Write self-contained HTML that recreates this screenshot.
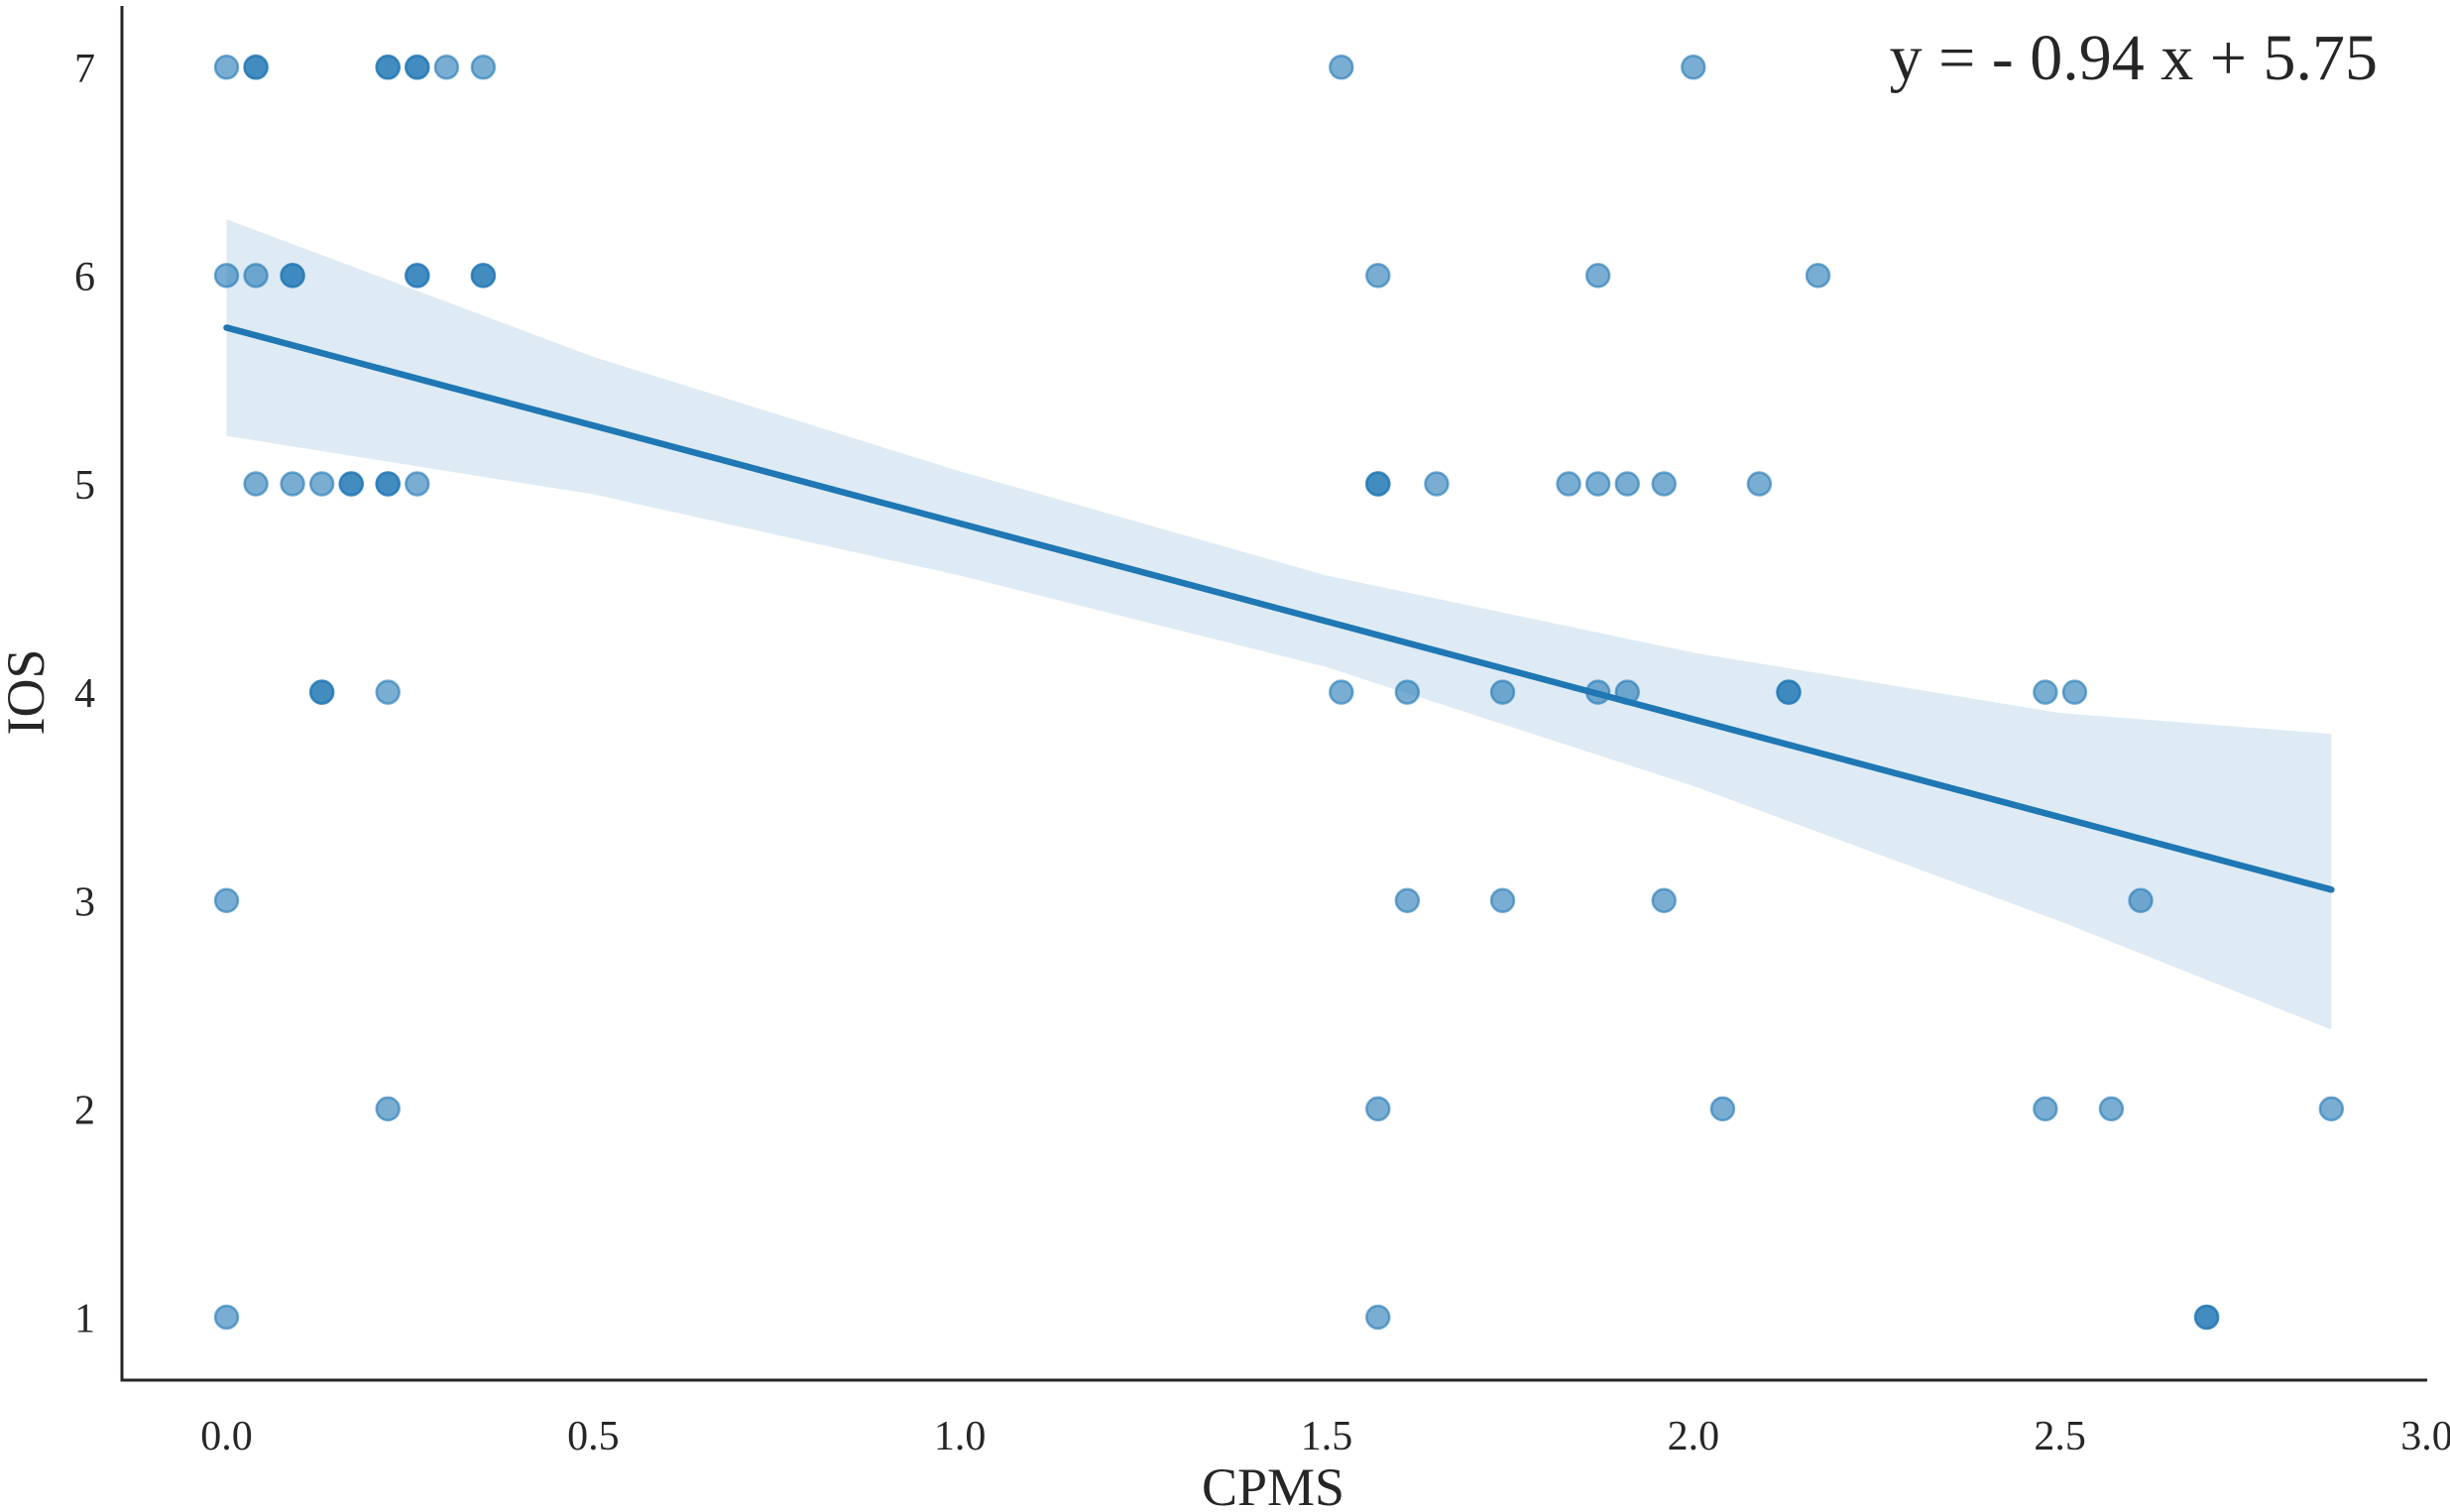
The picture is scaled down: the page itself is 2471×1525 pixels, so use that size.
<!DOCTYPE html>
<html><head><meta charset="utf-8"><style>
html,body{margin:0;padding:0;background:#fff;}
svg{display:block;font-family:"Liberation Serif",serif;}
</style></head><body>
<svg id="chart" width="2471" height="1525" viewBox="0 0 2471 1525" xmlns="http://www.w3.org/2000/svg">
<g id="band"></g>
<g id="points"></g>
<g id="line"></g>
<g id="axes"></g>
<text x="2398" y="80" text-anchor="end" font-size="66" fill="#262626">y = - 0.94 x + 5.75</text>
<text x="1284" y="1518" text-anchor="middle" font-size="54" fill="#262626">CPMS</text>
<text transform="translate(44,698) rotate(-90)" text-anchor="middle" font-size="54" fill="#262626">IOS</text>
</svg>
<script>
const xs = [0,0.04,0.04,0.22,0.22,0.26,0.26,0.30,0.35,1.52,2.00,
 0,0.04,0.09,0.09,0.26,0.26,0.35,0.35,1.57,1.87,2.17,
 0.04,0.09,0.13,0.17,0.17,0.22,0.22,0.26,1.57,1.57,1.65,1.83,1.87,1.91,1.96,2.09,
 0.13,0.13,0.22,1.52,1.61,1.74,1.87,1.91,2.13,2.13,2.48,2.52,
 0,1.61,1.74,1.96,2.61,
 0.22,1.57,2.04,2.48,2.57,2.87,
 0,1.57,2.70,2.70];
const ys = [7,7,7,7,7,7,7,7,7,7,7,
 6,6,6,6,6,6,6,6,6,6,6,
 5,5,5,5,5,5,5,5,5,5,5,5,5,5,5,5,
 4,4,4,4,4,4,4,4,4,4,4,4,
 3,3,3,3,3,
 2,2,2,2,2,2,
 1,1,1,1];
const bandX = [0,0.5,1.0,1.5,2.0,2.5,2.87];
const bandUpper = [6.27,5.61,5.06,4.56,4.19,3.90,3.80];
const bandLower = [5.23,4.95,4.56,4.12,3.55,2.90,2.38];
const slope = -0.94, intercept = 5.75, fitMinX = 0, fitMaxX = 2.87;
const xTicks = [0,0.5,1.0,1.5,2.0,2.5,3.0];
const xTickLabels = ["0.0","0.5","1.0","1.5","2.0","2.5","3.0"];
const yTicks = [1,2,3,4,5,6,7];
const yTickLabels = ["1","2","3","4","5","6","7"];

const NS="http://www.w3.org/2000/svg";
const X = v => 228.5 + v*(2447.5-228.5)/3;
const Y = v => 1328.5 - (v-1)*(1328.5-67.8)/6;
function mk(tag, attrs, parent){const e=document.createElementNS(NS,tag);for(const k in attrs)e.setAttribute(k,attrs[k]);parent.appendChild(e);return e;}

let d="M"+bandX.map((x,i)=>X(x)+","+Y(bandUpper[i])).join(" L");
for(let i=bandX.length-1;i>=0;i--) d+=" L"+X(bandX[i])+","+Y(bandLower[i]);
d+=" Z";
const bp=mk('path',{d:d,fill:'#1f77b4','fill-opacity':0.15},document.getElementById('band'));



const pg=document.getElementById('points');
xs.forEach((x,i)=>{
  const c=mk('circle',{cx:X(x),cy:Y(ys[i]),r:11.5,fill:'#1f77b4','fill-opacity':0.6,stroke:'#1f77b4','stroke-opacity':0.6,'stroke-width':2.5},pg);
  
  
});

const ln=mk('line',{x1:X(fitMinX),y1:Y(intercept+slope*fitMinX),x2:X(fitMaxX),y2:Y(intercept+slope*fitMaxX),stroke:'#1f77b4','stroke-width':6.5,'stroke-linecap':'round'},document.getElementById('line'));



const ag=document.getElementById('axes');
const ya=mk('line',{x1:123,y1:6,x2:123,y2:1392,stroke:'#262626','stroke-width':3},ag);


const xa=mk('line',{x1:121.5,y1:1392,x2:2448,y2:1392,stroke:'#262626','stroke-width':3},ag);


xTicks.forEach((t,i)=>{
  const tx=mk('text',{x:X(t),y:1462,'text-anchor':'middle','font-size':42,fill:'#262626'},ag);
  tx.textContent=xTickLabels[i];
  
  
});
yTicks.forEach((t,i)=>{
  const tx=mk('text',{x:96,y:Y(t)+15,'text-anchor':'end','font-size':42,fill:'#262626'},ag);
  tx.textContent=yTickLabels[i];
  
  
});
</script>
</body></html>
